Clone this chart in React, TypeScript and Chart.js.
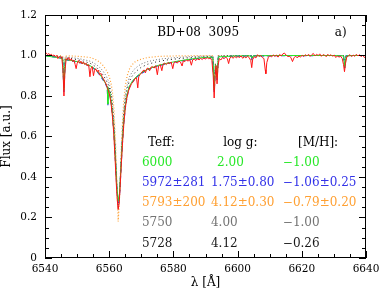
import { useEffect, useRef } from "react";
import { Chart, registerables } from "chart.js";
Chart.register(...registerables);

// Observed spectrum (red)
const obsWave = [
  6540.0, 6540.4, 6540.8, 6541.2, 6541.6, 6542.0, 6542.4, 6542.8, 6543.2, 6543.6, 6544.0, 6544.4, 6544.8, 6545.2,
  6545.6, 6545.9, 6546.2, 6546.6, 6547.0, 6547.4, 6547.8, 6548.2, 6548.6, 6549.0, 6549.4, 6549.7, 6550.0, 6550.4,
  6550.8, 6551.2, 6551.6, 6552.0, 6552.4, 6552.8, 6553.2, 6553.6, 6554.0, 6554.3, 6554.7, 6555.1, 6555.4, 6555.8,
  6556.2, 6556.6, 6557.0, 6557.4, 6557.8, 6558.2, 6558.6, 6559.0, 6559.4, 6559.8, 6560.2, 6560.6, 6561.0, 6561.4,
  6561.8, 6562.2, 6562.5, 6562.8, 6563.1, 6563.4, 6563.8, 6564.2, 6564.6, 6565.0, 6565.5, 6566.0, 6566.5, 6567.0,
  6567.5, 6568.0, 6568.5, 6568.9, 6569.2, 6569.6, 6570.0, 6570.5, 6570.9, 6571.3, 6571.7, 6572.1, 6572.6, 6573.0,
  6573.5, 6574.0, 6574.5, 6575.0, 6575.4, 6575.9, 6576.4, 6576.8, 6577.3, 6577.8, 6578.3, 6578.8, 6579.3, 6579.8,
  6580.2, 6580.7, 6581.2, 6581.7, 6582.2, 6582.7, 6583.1, 6583.6, 6584.1, 6584.6, 6585.1, 6585.6, 6586.0, 6586.5,
  6587.0, 6587.5, 6588.0, 6588.5, 6589.0, 6589.5, 6590.0, 6590.5, 6591.0, 6591.5, 6592.0, 6592.4, 6592.7, 6593.0,
  6593.3, 6593.6, 6593.9, 6594.3, 6594.8, 6595.3, 6595.8, 6596.3, 6596.8, 6597.2, 6597.6, 6598.1, 6598.6, 6599.1,
  6599.6, 6600.1, 6600.6, 6601.1, 6601.6, 6602.1, 6602.6, 6603.1, 6603.6, 6604.1, 6604.4, 6604.7, 6605.2, 6605.7,
  6606.2, 6606.7, 6607.2, 6607.7, 6608.2, 6608.6, 6608.8, 6609.1, 6609.6, 6610.1, 6610.6, 6611.1, 6611.6, 6612.1,
  6612.6, 6613.1, 6613.6, 6614.1, 6614.6, 6615.1, 6615.6, 6616.1, 6616.6, 6617.1, 6617.6, 6618.1, 6618.6, 6619.1,
  6619.6, 6620.1, 6620.6, 6621.1, 6621.6, 6622.1, 6622.6, 6623.1, 6623.6, 6624.1, 6624.6, 6625.1, 6625.6, 6626.1,
  6626.6, 6627.1, 6627.6, 6628.1, 6628.6, 6629.1, 6629.6, 6630.1, 6630.6, 6631.1, 6631.6, 6632.1, 6632.6, 6633.0,
  6633.3, 6633.6, 6634.0, 6634.5, 6635.0, 6635.5, 6636.0, 6636.5, 6637.0, 6637.5, 6638.0, 6638.5, 6639.0, 6639.5,
  6640.0,
];
const obsFlux = [
  1.008, 1.012, 1.004, 1.010, 1.002, 1.006, 0.998, 1.003, 0.995, 1.000, 0.985, 0.996, 0.990, 0.993,
  0.930, 0.800, 0.920, 0.985, 0.978, 0.990, 0.975, 0.984, 0.970, 0.978, 0.955, 0.935, 0.960, 0.975,
  0.962, 0.972, 0.958, 0.968, 0.955, 0.962, 0.948, 0.955, 0.895, 0.935, 0.945, 0.900, 0.925, 0.935,
  0.920, 0.928, 0.905, 0.912, 0.895, 0.885, 0.872, 0.860, 0.842, 0.825, 0.800, 0.760, 0.700, 0.620,
  0.500, 0.370, 0.290, 0.240, 0.270, 0.350, 0.470, 0.580, 0.670, 0.740, 0.790, 0.825, 0.845, 0.862,
  0.870, 0.885, 0.890, 0.840, 0.895, 0.905, 0.912, 0.925, 0.928, 0.915, 0.935, 0.938, 0.925, 0.942,
  0.945, 0.938, 0.950, 0.905, 0.948, 0.955, 0.925, 0.958, 0.962, 0.955, 0.965, 0.960, 0.968, 0.935,
  0.965, 0.970, 0.962, 0.972, 0.968, 0.948, 0.974, 0.970, 0.978, 0.972, 0.980, 0.952, 0.978, 0.982,
  0.975, 0.985, 0.978, 0.986, 0.980, 0.988, 0.982, 0.990, 0.984, 0.988, 0.975, 0.900, 0.790, 0.900,
  0.950, 0.860, 0.950, 0.985, 0.978, 0.990, 0.984, 0.992, 0.985, 0.960, 0.988, 0.994, 0.986, 0.996,
  0.988, 0.995, 0.990, 0.998, 0.986, 0.994, 0.988, 0.996, 0.990, 0.975, 0.940, 0.980, 0.994, 0.988,
  1.004, 0.995, 1.000, 0.990, 0.985, 0.930, 0.910, 0.965, 0.992, 1.000, 0.993, 1.003, 0.996, 1.002,
  0.992, 1.005, 0.998, 1.008, 1.012, 1.002, 0.995, 0.996, 0.990, 0.970, 0.990, 0.996, 0.988, 0.998,
  0.992, 1.002, 0.995, 1.004, 0.998, 1.006, 0.996, 1.004, 1.010, 0.998, 1.006, 1.000, 1.008, 0.996,
  1.004, 1.002, 0.994, 1.006, 0.998, 1.004, 0.996, 1.002, 0.990, 0.998, 0.992, 0.996, 0.985, 0.955,
  0.920, 0.960, 0.992, 0.998, 1.004, 0.995, 1.002, 0.996, 1.006, 0.998, 1.004, 0.994, 1.002, 0.990,
  0.996,
];

// Synthetic model spectra on a shared wavelength grid
const modelWave = [
  6540, 6542, 6544, 6545.5, 6545.9, 6546.3, 6548, 6550, 6552, 6554, 6555, 6556, 6557, 6558, 6559,
  6559.4, 6559.6, 6559.8, 6560.2, 6560.6, 6561, 6561.5, 6562, 6562.4, 6562.8, 6563.2, 6563.6, 6564,
  6564.5, 6565, 6565.6, 6566.2, 6567, 6568, 6569, 6570, 6572, 6575, 6578, 6582, 6586, 6590, 6592.3,
  6592.7, 6593.1, 6593.6, 6594, 6597, 6600, 6604.2, 6604.5, 6604.8, 6608, 6612, 6616, 6620, 6625,
  6630, 6633, 6633.4, 6633.8, 6636, 6640,
];
const fluxGreen = [
  0.998, 0.994, 0.990, 0.984, 0.830, 0.980, 0.976, 0.970, 0.962, 0.950, 0.940, 0.927, 0.908, 0.886, 0.858,
  0.845, 0.760, 0.835, 0.815, 0.775, 0.715, 0.620, 0.470, 0.350, 0.280, 0.320, 0.430, 0.550,
  0.670, 0.750, 0.810, 0.845, 0.868, 0.888, 0.902, 0.915, 0.932, 0.950, 0.962, 0.974, 0.984, 0.991, 0.991,
  0.830, 0.955, 0.890, 0.993, 0.996, 0.998, 0.998, 0.988, 0.998, 0.999, 1.000, 1.000, 1.000, 1.000,
  1.000, 0.998, 0.945, 0.998, 1.000, 1.000,
];
const fluxBlue = [
  1.000, 0.995, 0.990, 0.985, 0.820, 0.980, 0.975, 0.968, 0.960, 0.948, 0.938, 0.925, 0.905, 0.882, 0.855,
  0.840, 0.755, 0.830, 0.810, 0.770, 0.710, 0.610, 0.460, 0.340, 0.270, 0.310, 0.420, 0.540,
  0.660, 0.740, 0.800, 0.840, 0.865, 0.885, 0.900, 0.912, 0.930, 0.948, 0.960, 0.972, 0.982, 0.990, 0.990,
  0.820, 0.950, 0.880, 0.992, 0.995, 0.997, 0.998, 0.985, 0.998, 0.998, 0.999, 0.999, 0.999, 1.000,
  1.000, 0.998, 0.940, 0.998, 1.000, 1.000,
];
const fluxOrange = [
  1.000, 1.000, 1.000, 0.998, 0.850, 0.997, 0.998, 0.996, 0.994, 0.990, 0.985, 0.978, 0.968, 0.952, 0.930,
  0.918, 0.912, 0.905, 0.885, 0.860, 0.820, 0.730, 0.560, 0.360, 0.180, 0.290, 0.470, 0.630,
  0.770, 0.850, 0.900, 0.930, 0.952, 0.968, 0.976, 0.982, 0.990, 0.995, 0.997, 0.998, 0.999, 1.000, 1.000,
  0.840, 0.960, 0.900, 1.000, 1.000, 1.000, 1.000, 0.975, 1.000, 1.000, 1.000, 1.000, 1.000, 1.000,
  1.000, 1.000, 0.950, 1.000, 1.000, 1.000,
];
const fluxGray = [
  1.000, 0.998, 0.996, 0.994, 0.860, 0.992, 0.990, 0.986, 0.980, 0.972, 0.965, 0.955, 0.942, 0.925, 0.900,
  0.888, 0.880, 0.872, 0.850, 0.820, 0.770, 0.670, 0.510, 0.360, 0.240, 0.300, 0.450, 0.590,
  0.720, 0.800, 0.855, 0.890, 0.915, 0.935, 0.948, 0.958, 0.970, 0.980, 0.986, 0.991, 0.995, 0.997, 0.997,
  0.850, 0.960, 0.900, 0.998, 0.999, 1.000, 1.000, 0.980, 1.000, 1.000, 1.000, 1.000, 1.000, 1.000,
  1.000, 1.000, 0.950, 1.000, 1.000, 1.000,
];
const fluxBlack = [
  1.000, 0.996, 0.993, 0.990, 0.840, 0.988, 0.985, 0.980, 0.972, 0.962, 0.953, 0.942, 0.926, 0.906, 0.880,
  0.866, 0.860, 0.852, 0.830, 0.800, 0.745, 0.650, 0.490, 0.350, 0.250, 0.300, 0.440, 0.570,
  0.700, 0.780, 0.835, 0.870, 0.895, 0.915, 0.930, 0.942, 0.957, 0.970, 0.978, 0.985, 0.990, 0.994, 0.994,
  0.830, 0.955, 0.880, 0.996, 0.998, 0.999, 0.999, 0.975, 0.999, 0.999, 1.000, 1.000, 1.000, 1.000,
  1.000, 0.999, 0.940, 0.999, 1.000, 1.000,
];

// Parameter table text
const tableHeaders = ["Teff:", "log g:", "[M/H]:"];
const teffLabels = ["6000", "5972±281", "5793±200", "5750", "5728"];
const loggLabels = ["2.00", "1.75±0.80", "4.12±0.30", "4.00", "4.12"];
const mhLabels = ["−1.00", "−1.06±0.25", "−0.79±0.20", "−1.00", "−0.26"];
const starName = "BD+08  3095";
const panelLabel = "a)";

const C_RED = "rgb(255,20,20)";
const C_GREEN = "rgb(40,232,40)";
const C_BLUE = "rgb(50,50,232)";
const C_ORANGE = "rgb(255,160,50)";
const C_GRAY = "rgb(115,115,115)";
const C_BLACK = "rgb(25,25,25)";
const rowColors = [C_GREEN, C_BLUE, C_ORANGE, C_GRAY, C_BLACK];

const SERIF = "'DejaVu Serif', serif";

const zip = (xs: number[], ys: number[]) => xs.map((x, i) => ({ x, y: ys[i] }));

const framePlugin = {
  id: "frameTicks",
  afterDraw(chart: any) {
    const { ctx, chartArea: a, scales } = chart;
    const xs = scales.x;
    const ys = scales.y;
    ctx.save();
    ctx.strokeStyle = "#000";
    ctx.lineWidth = 1;
    ctx.strokeRect(a.left + 0.5, a.top + 0.5, a.right - a.left - 1, a.bottom - a.top - 1);
    ctx.beginPath();
    for (let v = 6540; v <= 6640; v += 5) {
      const px = Math.round(xs.getPixelForValue(v)) + 0.5;
      const len = v % 20 === 0 ? 7 : 4;
      ctx.moveTo(px, a.bottom);
      ctx.lineTo(px, a.bottom - len);
      ctx.moveTo(px, a.top);
      ctx.lineTo(px, a.top + len);
    }
    for (let i = 0; i <= 24; i++) {
      const v = i * 0.05;
      const py = Math.round(ys.getPixelForValue(v)) + 0.5;
      const len = i % 4 === 0 ? 7 : 4;
      ctx.moveTo(a.left, py);
      ctx.lineTo(a.left + len, py);
      ctx.moveTo(a.right, py);
      ctx.lineTo(a.right - len, py);
    }
    ctx.stroke();

    // texts
    ctx.font = "12px " + SERIF;
    ctx.textBaseline = "middle";
    ctx.fillStyle = "#000";
    ctx.textAlign = "center";
    ctx.fillText(starName, xs.getPixelForValue(6587.7), ys.getPixelForValue(1.111));
    ctx.textAlign = "left";
    ctx.fillText(panelLabel, xs.getPixelForValue(6630.3), ys.getPixelForValue(1.111));

    const headX = [6572.1, 6595.5, 6618.8];
    const headY = ys.getPixelForValue(0.568);
    tableHeaders.forEach((h, i) => ctx.fillText(h, xs.getPixelForValue(headX[i]), headY));
    const rowY = [0.469, 0.370, 0.272, 0.173, 0.069];
    teffLabels.forEach((t, i) => {
      ctx.fillStyle = rowColors[i];
      const py = ys.getPixelForValue(rowY[i]);
      ctx.fillText(t, xs.getPixelForValue(6570.2), py);
      ctx.fillText(loggLabels[i], xs.getPixelForValue(i === 0 ? 6593.6 : 6591.7), py);
      ctx.fillText(mhLabels[i], xs.getPixelForValue(6614.1), py);
    });
    ctx.restore();
  },
};

export default function App() {
  const ref = useRef<HTMLCanvasElement | null>(null);
  useEffect(() => {
    if (!ref.current) return;
    const line = (data: any, color: string, dash: number[], width = 1) => ({
      data,
      borderColor: color,
      borderWidth: width,
      borderDash: dash,
      pointRadius: 0,
      fill: false,
      tension: 0,
    });
    const chart = new Chart(ref.current, {
      type: "line",
      data: {
        datasets: [
          line(zip(obsWave, obsFlux), C_RED, [], 1),
          line(zip(modelWave, fluxGreen), C_GREEN, [], 1),
          line(zip(modelWave, fluxBlue), C_BLUE, [4, 3], 1.2),
          line(zip(modelWave, fluxBlack), C_BLACK, [1, 3], 1),
          line(zip(modelWave, fluxGray), C_GRAY, [1, 2], 1),
          line(zip(modelWave, fluxOrange), C_ORANGE, [1, 2], 1.2),
        ],
      },
      options: {
        responsive: false,
        animation: false,
        layout: { padding: { top: 15, right: 23, left: 0, bottom: 0 } },
        plugins: { legend: { display: false }, tooltip: { enabled: false } },
        scales: {
          x: {
            type: "linear",
            min: 6540,
            max: 6640,
            afterFit: (s: any) => {
              s.height = 33;
            },
            grid: { display: false, drawTicks: false },
            border: { display: false },
            ticks: {
              stepSize: 20,
              padding: 5,
              color: "#000",
              font: { family: SERIF, size: 10.5 },
              maxRotation: 0,
              callback: (v: any) => String(v),
            },
            title: {
              display: true,
              text: "λ [Å]",
              color: "#000",
              font: { family: SERIF, size: 12 },
              padding: { top: 0, bottom: 1 },
            },
          },
          y: {
            min: 0,
            max: 1.2,
            afterFit: (s: any) => {
              s.width = 45;
            },
            grid: { display: false, drawTicks: false },
            border: { display: false },
            ticks: {
              stepSize: 0.2,
              padding: 8,
              color: "#000",
              font: { family: SERIF, size: 10.5 },
            },
            title: {
              display: true,
              text: "Flux [a.u.]",
              color: "#000",
              font: { family: SERIF, size: 12 },
              padding: 0,
            },
          },
        },
      },
      plugins: [framePlugin],
    });
    return () => chart.destroy();
  }, []);
  return (
    <div style={{ position: "absolute", left: 0, top: 0, width: 389, height: 291, background: "#fff" }}>
      <canvas ref={ref} width={389} height={291} />
    </div>
  );
}
